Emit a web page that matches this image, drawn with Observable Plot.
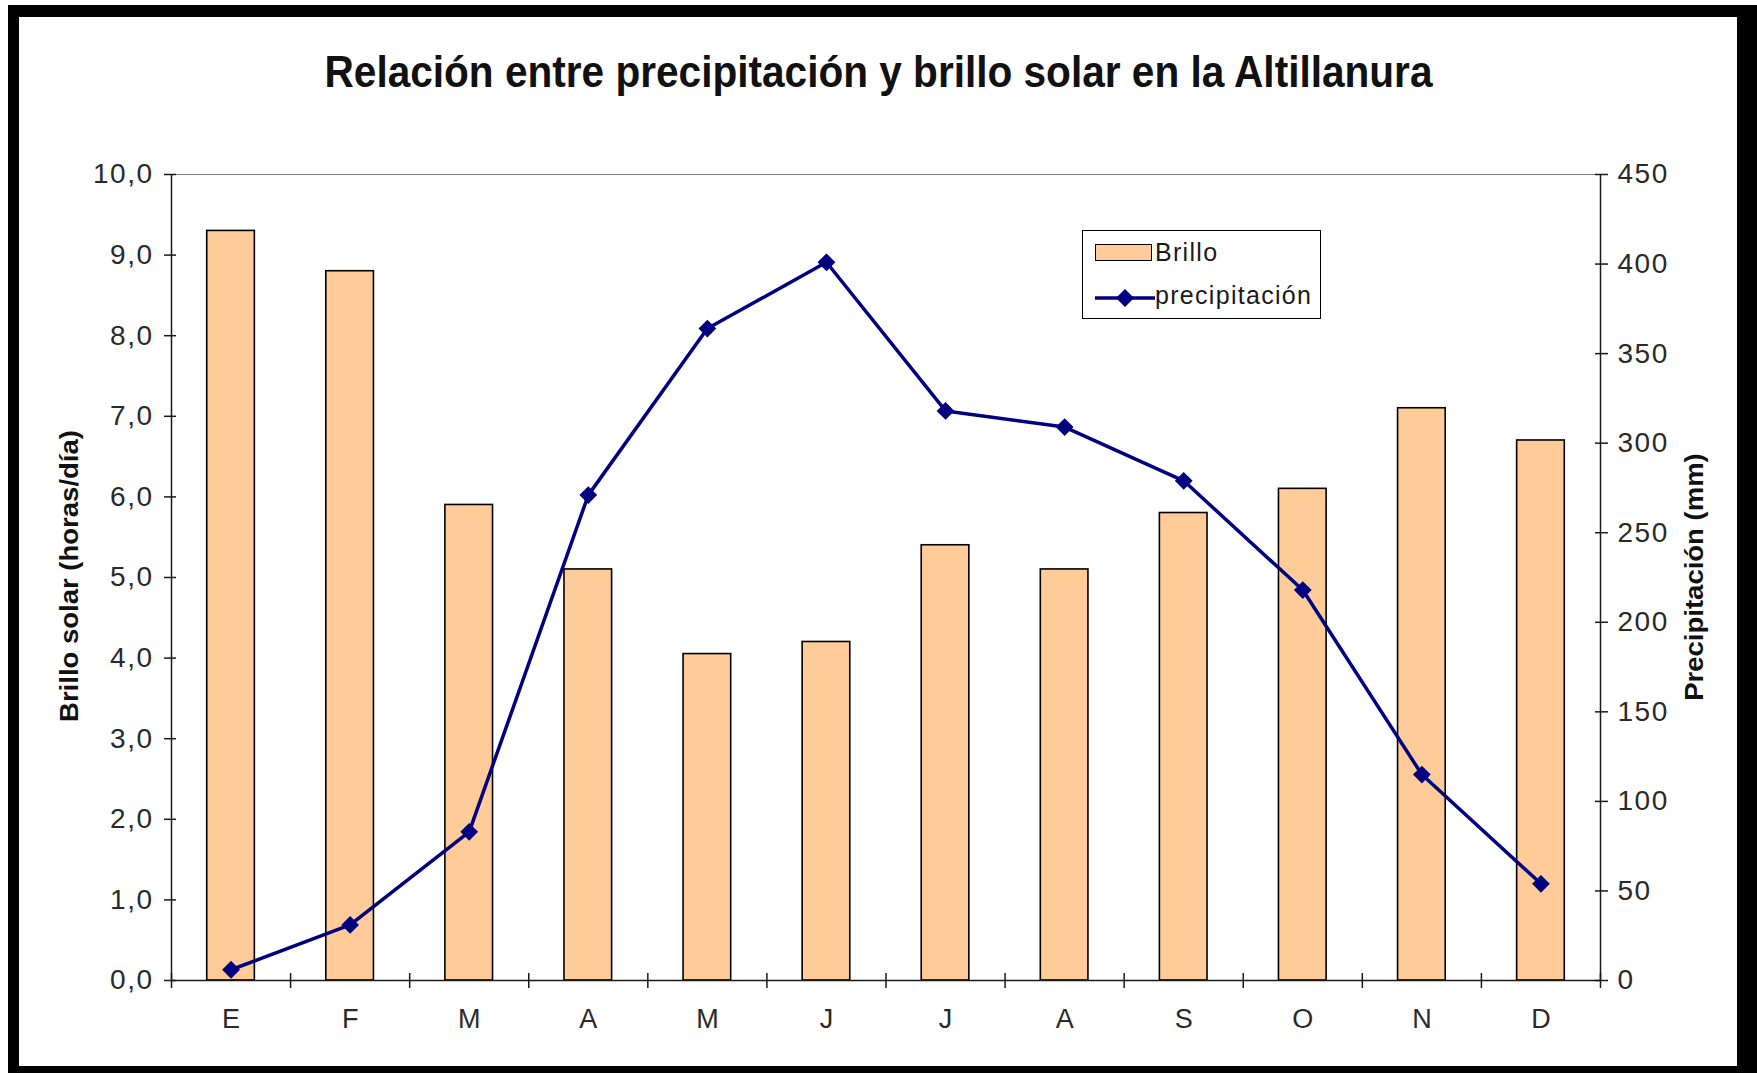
<!DOCTYPE html>
<html>
<head>
<meta charset="utf-8">
<script src="https://cdn.jsdelivr.net/npm/d3@7"></script>
<script src="https://cdn.jsdelivr.net/npm/@observablehq/plot@0.6"></script>
<style>
  html, body { margin: 0; padding: 0; background: #fff; }
  body { width: 1757px; height: 1073px; position: relative; overflow: hidden; font-family: "Liberation Sans", Arial, sans-serif; }
  #frame { position: absolute; left: 8px; top: 5px; width: 1749px; height: 1068px; box-sizing: border-box;
           border-left: 11px solid #000; border-top: 12px solid #000; border-right: 20px solid #000; border-bottom: 7px solid #000; background: #fff; }
  #chart { position: absolute; left: 0; top: 0; }
  #chart g[aria-label="y-axis tick label"] text { letter-spacing: 1.5px; }
  .title { position: absolute; left: 0; width: 1757px; top: 52px; text-align: center; font-weight: bold; font-size: 40.6px; line-height: 1; color: #111; transform: scaleY(1.08); }
  .vlabel { position: absolute; font-weight: bold; font-size: 25px; line-height: 1; white-space: nowrap; color: #111;
            transform: translate(-50%, -50%) rotate(-90deg) scaleX(1.1); }
  #legend { position: absolute; left: 1082px; top: 230px; width: 239px; height: 89px; box-sizing: border-box; border: 1.5px solid #000; background: #fff; }
  #legend .sw { position: absolute; left: 12px; top: 13px; width: 57px; height: 17px; box-sizing: border-box; background: #FFCC99; border: 1.5px solid #000; }
  #legend .ln { position: absolute; left: 12px; top: 56px; }
  #legend .txt { position: absolute; left: 72px; font-size: 25px; line-height: 1; letter-spacing: 1.3px; color: #1a1a1a; }
</style>
</head>
<body>
<div id="frame"></div>
<div id="chart"></div>
<div class="title">Relación entre precipitación y brillo solar en la Altillanura</div>
<div class="vlabel" style="left:69px; top:576px;">Brillo solar (horas/día)</div>
<div class="vlabel" style="left:1694px; top:577px;">Precipitación (mm)</div>
<div id="legend">
  <div class="sw"></div>
  <div class="txt" style="top:9px;">Brillo</div>
  <svg class="ln" width="60" height="22"><line x1="0" y1="11" x2="60" y2="11" stroke="#000080" stroke-width="3.5"/><path d="M30,2 L39,11 L30,20 L21,11 Z" fill="#000080"/></svg>
  <div class="txt" style="top:52px;">precipitación</div>
</div>
<script>
const months = ["E", "F", "M", "A", "M", "J", "J", "A", "S", "O", "N", "D"];
const brillo = [9.3, 8.8, 5.9, 5.1, 4.05, 4.2, 5.4, 5.1, 5.8, 6.1, 7.1, 6.7];
const precipitacion = [6, 31, 83, 271, 364, 401, 318, 309, 279, 218, 115, 54];
const brilloTicks = [0, 1, 2, 3, 4, 5, 6, 7, 8, 9, 10];
const precipTicks = [0, 50, 100, 150, 200, 250, 300, 350, 400, 450];

const precipMax = 450, brilloMax = 10;
const toLeft = p => p * brilloMax / precipMax;

const rows = months.map((m, i) => ({i, month: m, brillo: brillo[i], precip: precipitacion[i]}));
const boundaries = d3.range(0, months.length + 1);
const centers = months.map((_, i) => i + 0.5);

const axisColor = "#1a1a1a";
const labelColor = "#2a2a2a";
const tickFont = 28;

const chart = Plot.plot({
  width: 1757,
  height: 1073,
  marginLeft: 171,
  marginRight: 157,
  marginTop: 174,
  marginBottom: 93,
  style: {background: "transparent", fontFamily: "'Liberation Sans', Arial, sans-serif", fontSize: "28px", color: axisColor, overflow: "visible"},
  x: {type: "linear", domain: [0, months.length], axis: null},
  y: {domain: [0, brilloMax], axis: null},
  marks: [
    Plot.ruleY([brilloMax], {stroke: "#808080", strokeWidth: 1.2}),
    Plot.rect(rows, {x1: d => d.i + 0.3, x2: d => d.i + 0.7, y1: 0, y2: "brillo", fill: "#FFCC99", stroke: "#000", strokeWidth: 1.6}),
    Plot.ruleX([0], {stroke: axisColor, strokeWidth: 1.5}),
    Plot.ruleX([months.length], {stroke: axisColor, strokeWidth: 1.5}),
    Plot.ruleY([0], {stroke: axisColor, strokeWidth: 1.5}),
    // left axis
    Plot.axisY(brilloTicks, {anchor: "left", tickSize: 7, tickPadding: 11, fontSize: tickFont, tickFormat: d => d.toFixed(1).replace(".", ","), label: null, strokeWidth: 1.5, fill: labelColor}),
    Plot.axisY(brilloTicks, {anchor: "left", tickSize: 5, dx: 5, tickFormat: () => "", label: null, strokeWidth: 1.5}),
    // right axis
    Plot.axisY(precipTicks.map(toLeft), {anchor: "right", tickSize: 7, tickPadding: 10, fontSize: tickFont, tickFormat: d => String(Math.round(d * precipMax / brilloMax)), label: null, strokeWidth: 1.5, fill: labelColor}),
    Plot.axisY(precipTicks.map(toLeft), {anchor: "right", tickSize: 6, dx: -6, tickFormat: () => "", label: null, strokeWidth: 1.5}),
    // x axis
    Plot.axisX(centers, {anchor: "bottom", tickSize: 0, tickPadding: 28, fontSize: 27, tickFormat: d => months[Math.floor(d)], label: null, fill: labelColor}),
    Plot.axisX(boundaries, {anchor: "bottom", tickSize: 15, dy: -7, tickFormat: () => "", label: null, strokeWidth: 1.5}),
    // precipitation line
    Plot.line(rows, {x: d => d.i + 0.5, y: d => toLeft(d.precip), stroke: "#000080", strokeWidth: 3.5}),
    Plot.dot(rows, {x: d => d.i + 0.5, y: d => toLeft(d.precip), symbol: "diamond2", r: 8, fill: "#000080", stroke: "none"})
  ]
});
document.getElementById("chart").appendChild(chart);
</script>
</body>
</html>
